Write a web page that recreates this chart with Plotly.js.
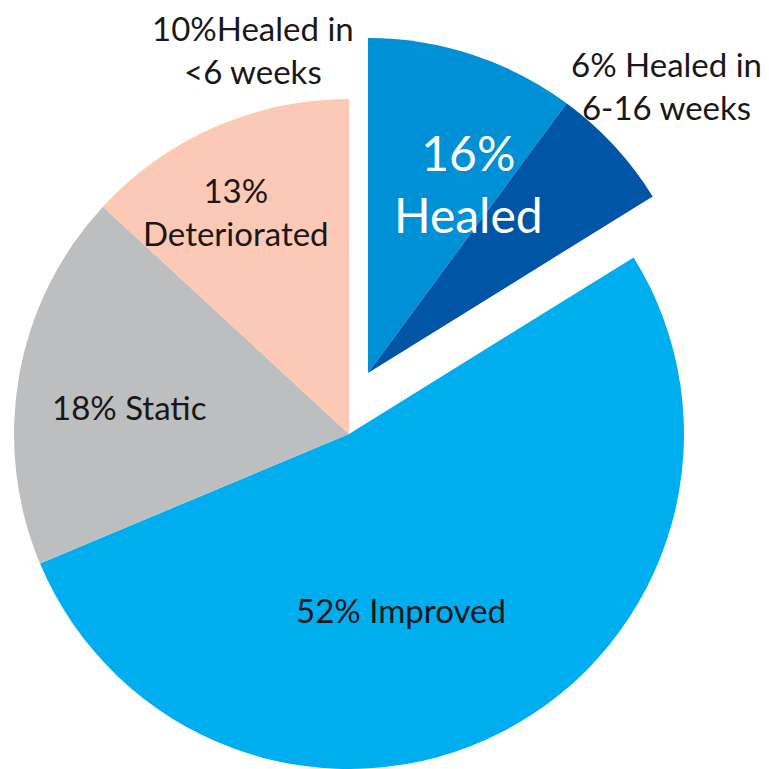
<!DOCTYPE html>
<html>
<head>
<meta charset="utf-8">
<script src="https://cdn.plot.ly/plotly-3.0.1.min.js"></script>
<style>html,body{margin:0;padding:0;background:#fff;}#chart{width:769px;height:769px;}</style>
</head>
<body>
<div id="chart"></div>
<script>
// Data
const categories = ['Healed in <6 weeks', 'Healed in 6-16 weeks', 'Improved', 'Static', 'Deteriorated'];
const values = [10, 6, 52, 18, 13];
const healedGroup = [true, true, false, false, false];
const colors = ['#0090d5', '#0055a6', '#00aeef', '#bcbec0', '#fbc9b5'];

const W = 769, H = 769;
function dom(cx, cy, r) {
  return { x: [(cx - r) / W, (cx + r) / W], y: [1 - (cy + r) / H, 1 - (cy - r) / H] };
}

const R = 335;
const mainColors = colors.map((c, i) => healedGroup[i] ? 'rgba(0,0,0,0)' : c);
const pulledColors = colors.map((c, i) => healedGroup[i] ? c : 'rgba(0,0,0,0)');

const base = {
  type: 'pie', values: values, labels: categories, sort: false,
  direction: 'clockwise', rotation: 0, textinfo: 'none', hoverinfo: 'skip',
  showlegend: false
};
const traces = [
  Object.assign({}, base, { domain: dom(349, 434, R), marker: { colors: mainColors, line: { width: 0 } } }),
  Object.assign({}, base, { domain: dom(368, 373, R), marker: { colors: pulledColors, line: { width: 0 } } })
];

const healedTotal = values.filter((v, i) => healedGroup[i]).reduce((a, b) => a + b, 0);
const dark = '#1a1718';
const F = 'Lato, "Open Sans", sans-serif';
function ann(text, px, py, size, color) {
  return { text: text, x: px / W, y: 1 - py / H, xref: 'paper', yref: 'paper', showarrow: false,
    xanchor: 'center', yanchor: 'middle', align: 'center',
    font: { family: F, size: size, color: color || dark } };
}
const S = 33;
const annotations = [
  ann(values[0] + '%Healed in<br>&lt;6 weeks', 253, 49, S),
  ann(values[1] + '% Healed in<br>6-16 weeks', 666, 85, S),
  ann(healedTotal + '%<br>Healed', 468, 183, 48, '#ffffff'),
  ann(values[4] + '%<br>Deteriorated', 236, 212, S),
  ann(values[3] + '% ' + categories[3], 129, 407, S),
  ann(values[2] + '% ' + categories[2], 401, 610, S)
];

const layout = {
  width: W, height: H, margin: { l: 0, r: 0, t: 0, b: 0 },
  paper_bgcolor: '#ffffff', plot_bgcolor: '#ffffff',
  annotations: annotations
};
Plotly.newPlot('chart', traces, layout, { displayModeBar: false, staticPlot: true });
</script>
</body>
</html>
